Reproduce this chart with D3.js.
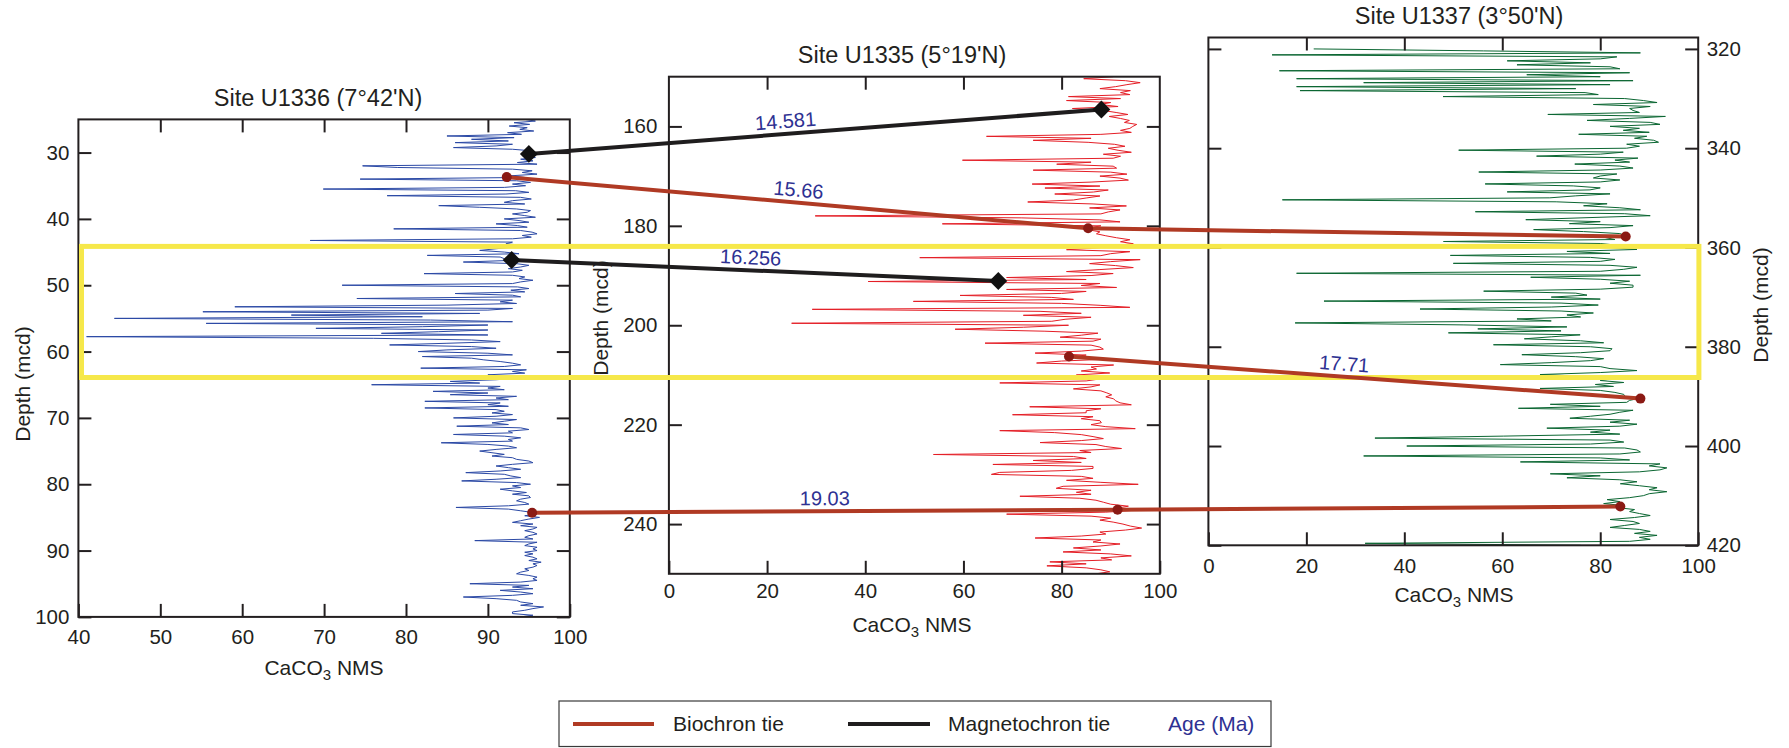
<!DOCTYPE html>
<html lang="en">
<head>
<meta charset="UTF-8">
<title>CaCO3 NMS - Sites U1336, U1335, U1337</title>
<script src="https://d3js.org/d3.v7.min.js"></script>
<style>
  body { margin: 0; background: #fff; }
  svg { font-family: 'Liberation Sans', Arial, sans-serif; }
  svg text { fill: #231f20; }
  .tick line { stroke: #231f20; stroke-width: 2; }
  .tick text { font-size: 20.5px; font-family: 'Liberation Sans', Arial, sans-serif; fill: #231f20; }
  .frame { fill: none; stroke: #231f20; stroke-width: 2; }
  .series { fill: none; stroke-width: 1; stroke-linejoin: miter; }
  .age { fill: #2e3192; font-size: 20px; }
</style>
</head>
<body>
<svg id="chart" width="1789" height="748"></svg>
<script>
// CaCO3 NMS per site on a regular depth grid (mcd)
const u1336Start = 25, u1336Step = 0.25;
const u1336Values = [
  94.5, 95.8, 93.2, 95.1, 92.6, 94.8, 93.9, 95.6,
  92.4, 94.1, 85.0, 93.2, 88.0, 92.5, 86.0, 93.0,
  91.0, 85.8, 93.0, 95.5, 95.0, 96.2, 94.3, 95.8,
  94.0, 95.5, 93.6, 96.0, 74.7, 79.0, 93.0, 95.4,
  94.2, 96.0, 92.8, 94.5, 74.4, 93.5, 95.2, 93.0,
  94.6, 92.0, 69.9, 93.4, 95.0, 92.2, 77.7, 94.0,
  95.3, 93.0, 92.0, 94.5, 84.0, 89.0, 93.5, 95.2,
  94.8, 93.0, 94.5, 95.8, 92.0, 93.8, 95.0, 91.0,
  93.6, 94.8, 78.5, 94.0, 95.4, 96.0, 94.2, 95.3,
  93.0, 68.3, 93.0, 92.2, 94.4, 93.0, 91.0, 89.0,
  92.0, 93.8, 82.6, 91.5, 92.0, 93.0, 87.0, 93.5,
  95.0, 94.0, 92.5, 94.2, 93.0, 82.2, 93.0, 94.5,
  93.8, 95.5, 94.0, 93.0, 72.2, 93.6, 95.0, 92.8,
  94.5, 86.0, 93.0, 94.0, 74.0, 93.0, 91.5, 93.5,
  85.0, 59.1, 93.0, 90.0, 55.2, 89.0, 66.0, 82.0,
  44.4, 83.0, 93.0, 55.6, 90.0, 82.0, 69.0, 90.0,
  84.0, 77.0, 90.0, 41.0, 76.0, 88.0, 91.5, 85.0,
  78.0, 88.0, 91.0, 85.0, 81.5, 90.0, 93.0, 82.0,
  88.0, 89.5, 91.5, 93.0, 94.0, 92.0, 81.8, 94.7,
  93.0, 94.5, 90.0, 92.0, 93.6, 91.0, 85.4, 89.0,
  75.8, 91.5, 90.0, 92.0, 83.3, 90.0, 85.4, 93.5,
  91.0, 92.5, 82.3, 91.5, 90.0, 92.5, 82.3, 91.0,
  92.0, 90.5, 93.0, 91.0, 85.8, 93.5, 92.0, 90.5,
  92.5, 86.2, 94.0, 95.0, 92.5, 93.0, 85.8, 92.0,
  94.0, 92.5, 93.0, 84.3, 90.0, 92.5, 93.5, 91.0,
  89.0, 90.5, 92.0, 90.5, 93.0, 93.5, 95.0, 95.5,
  93.0, 91.0, 92.5, 94.0, 91.5, 87.3, 92.0, 92.8,
  94.0, 91.0, 86.8, 93.5, 95.2, 93.0, 94.0, 91.5,
  93.0, 94.7, 93.0, 95.0, 95.2, 94.0, 93.5, 94.5,
  95.0, 92.5, 86.1, 92.5, 94.0, 95.4, 96.0, 94.5,
  96.3, 95.0, 94.0, 93.0, 95.5, 94.0, 96.0, 95.5,
  94.5, 95.5, 96.0, 95.0, 94.5, 95.5, 88.4, 96.0,
  95.0, 94.5, 96.0, 95.5, 96.0, 94.5, 95.5, 94.5,
  95.5, 96.0, 95.0, 96.5, 95.5, 96.0, 95.5, 94.5,
  95.0, 94.0, 93.5, 95.0, 96.0, 95.5, 96.0, 94.0,
  87.8, 95.0, 93.0, 95.5, 91.5, 94.0, 95.5, 93.0,
  87.0, 91.0, 93.5, 94.0, 95.5, 94.0, 96.8, 95.5,
  94.5, 93.0, 93.0, 95.5, 94.0
];

const u1335Start = 150, u1335Step = 0.4;
const u1335Values = [
  90.5, 84.5, 93.0, 96.0, 93.3, 91.0, 87.8, 94.0, 92.0, 93.9,
  81.4, 92.0, 81.0, 90.0, 87.8, 91.5, 82.2, 88.5, 91.1, 93.5,
  89.7, 92.0, 93.8, 92.8, 95.3, 94.5, 93.9, 92.0, 94.2, 88.0,
  64.7, 86.0, 74.2, 85.4, 90.8, 92.9, 89.5, 91.5, 94.2, 88.5,
  92.0, 90.5, 59.8, 86.0, 79.0, 90.5, 91.2, 74.2, 90.0, 93.3,
  87.8, 91.9, 93.6, 86.0, 74.0, 87.8, 76.6, 89.5, 86.5, 78.6,
  87.8, 85.0, 82.4, 73.1, 86.4, 93.2, 85.7, 91.9, 89.5, 88.0,
  29.8, 71.9, 87.8, 91.9, 55.7, 88.0, 85.7, 85.4, 87.8, 87.1,
  89.0, 91.2, 93.9, 92.0, 94.6, 90.0, 87.8, 81.0, 93.9, 90.0,
  88.0, 51.1, 96.0, 90.0, 85.7, 91.0, 94.6, 87.8, 81.0, 90.5,
  86.0, 68.8, 85.0, 40.6, 87.8, 84.0, 91.2, 68.8, 85.0, 80.0,
  59.3, 78.0, 82.4, 49.8, 80.0, 88.0, 93.9, 29.2, 75.6, 84.0,
  72.2, 86.0, 80.7, 78.0, 25.0, 81.4, 72.2, 58.3, 76.6, 87.4,
  84.0, 79.7, 88.0, 86.4, 64.4, 86.0, 87.8, 88.5, 84.0, 74.6,
  85.0, 81.7, 89.9, 80.0, 74.9, 90.6, 86.0, 87.1, 84.0, 89.8,
  83.0, 88.0, 87.8, 85.0, 67.4, 87.8, 86.0, 82.4, 88.0, 89.2,
  90.2, 89.0, 90.6, 91.0, 91.9, 94.2, 73.5, 88.0, 85.0, 85.0,
  70.0, 86.4, 84.0, 87.8, 88.1, 86.0, 89.0, 95.0, 67.4, 78.6,
  84.0, 86.4, 88.5, 84.0, 75.6, 87.0, 89.0, 92.2, 83.7, 86.0,
  53.9, 82.4, 85.0, 74.2, 84.0, 66.0, 86.4, 86.4, 82.0, 67.4,
  65.7, 84.0, 86.4, 81.0, 88.0, 95.6, 80.3, 78.9, 86.0, 83.0,
  86.0, 71.5, 83.7, 87.0, 88.5, 90.0, 93.6, 91.2, 95.3, 89.0,
  68.8, 86.0, 90.0, 87.8, 90.5, 92.5, 94.0, 96.3, 93.0, 87.8,
  89.0, 84.0, 74.6, 88.0, 86.4, 91.9, 88.0, 82.4, 88.0, 80.3,
  90.0, 94.2, 88.0, 90.2, 77.6, 85.0, 77.0, 85.0, 88.0, 89.8,
  87.0
];

const u1337Start = 320, u1337Step = 0.4;
const u1337Values = [
  21.5, 56.2, 88.2, 13.0, 83.4, 80.0, 61.0, 78.0, 63.0, 82.0,
  84.0, 14.5, 86.0, 65.0, 80.0, 18.0, 86.7, 31.7, 82.0, 18.0,
  75.0, 18.7, 76.9, 79.6, 47.9, 85.0, 88.8, 91.6, 78.6, 90.2,
  86.0, 86.7, 88.0, 69.3, 93.3, 86.0, 77.3, 90.2, 92.2, 82.0,
  88.0, 84.7, 90.0, 75.6, 89.5, 87.0, 90.9, 91.9, 85.4, 88.0,
  85.4, 51.1, 84.7, 80.0, 67.0, 87.7, 83.0, 86.0, 74.8, 84.0,
  86.7, 80.0, 55.2, 83.4, 80.0, 78.6, 84.0, 80.0, 56.5, 74.5,
  80.0, 77.9, 61.0, 82.0, 75.0, 69.7, 15.1, 71.0, 81.4, 76.6,
  84.0, 88.2, 54.5, 85.0, 90.2, 77.3, 64.8, 80.0, 73.7, 86.7,
  82.0, 66.4, 76.6, 84.0, 85.1, 81.0, 83.0, 48.0, 80.0, 84.0,
  82.0, 87.5, 73.2, 82.0, 49.4, 78.0, 83.0, 80.0, 50.0, 82.0,
  87.5, 84.8, 80.0, 18.0, 88.2, 65.8, 80.0, 86.0, 82.0, 86.7,
  86.7, 80.0, 56.2, 75.0, 77.3, 70.0, 80.0, 23.6, 72.0, 79.6,
  70.0, 43.2, 72.0, 78.6, 73.2, 76.0, 63.0, 70.0, 17.7, 52.0,
  73.2, 55.0, 72.0, 49.0, 75.9, 70.0, 64.5, 76.0, 80.7, 58.2,
  78.0, 82.4, 82.0, 76.0, 64.0, 75.0, 80.7, 78.0, 70.0, 59.6,
  80.0, 82.0, 87.5, 80.0, 67.7, 78.0, 83.0, 80.0, 84.8, 79.0,
  82.7, 67.7, 80.0, 83.0, 84.8, 85.0, 88.0, 86.0, 85.4, 69.8,
  80.0, 63.3, 86.7, 84.0, 82.0, 78.0, 73.8, 86.0, 82.0, 87.5,
  84.0, 69.1, 82.0, 78.0, 84.0, 60.3, 34.0, 82.0, 84.8, 78.0,
  40.5, 85.0, 87.5, 88.2, 84.0, 31.7, 80.0, 86.0, 63.7, 92.2,
  90.0, 93.6, 92.2, 88.0, 69.8, 80.0, 73.2, 84.0, 87.5, 84.1,
  88.0, 91.6, 90.0, 93.6, 90.0, 88.8, 86.0, 81.4, 84.0, 80.7,
  85.0, 83.4, 87.0, 86.0, 88.0, 90.2, 87.0, 82.0, 86.7, 88.0,
  85.0, 82.0, 88.0, 90.2, 87.0, 91.6, 88.0, 90.2, 86.0, 32.0,
  76.0
];

// axis ticks
const u1336XTicks = [40, 50, 60, 70, 80, 90, 100];
const u1336YTicks = [30, 40, 50, 60, 70, 80, 90, 100];
const u1335XTicks = [0, 20, 40, 60, 80, 100];
const u1335YTicks = [160, 180, 200, 220, 240];
const u1337XTicks = [0, 20, 40, 60, 80, 100];
const u1337YTicks = [320, 340, 360, 380, 400, 420];

// age tie points: [CaCO3, depth] at each site, null where no tie
const tieAges = ["14.581", "16.256", "15.66", "17.71", "19.03"];
const tieTypes = ["magneto", "magneto", "bio", "bio", "bio"];
const tieU1336 = [[95.0, 30.2], [92.9, 46.2], [92.3, 33.7], null, [95.4, 84.3]];
const tieU1335 = [[88.1, 156.6], [67.1, 191.1], [85.4, 180.5], [81.5, 206.3], [91.4, 237.1]];
const tieU1337 = [null, null, [85.2, 357.8], [88.2, 390.45], [84.1, 412.2]];

const legendLabels = ["Biochron tie", "Magnetochron tie", "Age (Ma)"];

const bioColor = "#b03a24";
const magColor = "#1f1d1e";
const ageColor = "#2e3192";

const svg = d3.select("#chart");

const panels = [
  { title: "Site U1336 (7°42'N)", values: u1336Values, start: u1336Start, step: u1336Step,
    xDomain: [40, 100], yDomain: [25, 100], xTicks: u1336XTicks, yTicks: u1336YTicks,
    left: 78.4, right: 569.8, top: 119.4, bottom: 616.9, color: "#2b49a5",
    depthSide: "left", yPad: 9, xPad: 13, titleX: 318, titleY: 106,
    yLabelX: 23, yLabelY: 384, xLabelX: 324, xLabelY: 675 },
  { title: "Site U1335 (5°19'N)", values: u1335Values, start: u1335Start, step: u1335Step,
    xDomain: [0, 100], yDomain: [150, 250], xTicks: u1335XTicks, yTicks: u1335YTicks,
    left: 668.9, right: 1159.8, top: 76.7, bottom: 573.8, color: "#e41e26",
    depthSide: "left", yPad: 11.5, xPad: 10, titleX: 902, titleY: 63,
    yLabelX: 601, yLabelY: 318, xLabelX: 912, xLabelY: 632 },
  { title: "Site U1337 (3°50'N)", values: u1337Values, start: u1337Start, step: u1337Step,
    xDomain: [0, 100], yDomain: [317.7, 420], xTicks: u1337XTicks, yTicks: u1337YTicks,
    left: 1208.4, right: 1698.2, top: 37.5, bottom: 545.3, color: "#0b6632",
    depthSide: "right", yPad: 8.5, xPad: 13, titleX: 1459, titleY: 24,
    yLabelX: 1761, yLabelY: 305, xLabelX: 1454, xLabelY: 602 }
];

const tickLen = 13;
const layerData = svg.append("g");
const layerAxes = svg.append("g");
const layerAge = svg.append("g");
const layerBox = svg.append("g");
const layerTies = svg.append("g");

panels.forEach((p, k) => {
  p.x = d3.scaleLinear().domain(p.xDomain).range([p.left, p.right]);
  p.y = d3.scaleLinear().domain(p.yDomain).range([p.top, p.bottom]);

  const clipId = "clip" + k;
  svg.append("clipPath").attr("id", clipId)
    .append("rect")
    .attr("x", p.left).attr("y", p.top)
    .attr("width", p.right - p.left).attr("height", p.bottom - p.top);

  const pts = p.values.map((v, i) => ({ depth: p.start + i * p.step, v: v }));
  const line = d3.line().x(d => p.x(d.v)).y(d => p.y(d.depth));

  layerData.append("path")
    .datum(pts)
    .attr("class", "series")
    .attr("clip-path", `url(#${clipId})`)
    .attr("stroke", p.color)
    .attr("d", line);

  const g = layerAxes.append("g");

  // axes, ticks pointing inward
  g.append("g").attr("transform", `translate(0,${p.bottom})`)
    .call(d3.axisBottom(p.x).tickValues(p.xTicks).tickSize(-tickLen).tickSizeOuter(0).tickPadding(p.xPad))
    .call(a => a.select(".domain").remove());
  g.append("g").attr("transform", `translate(0,${p.top})`)
    .call(d3.axisTop(p.x).tickValues(p.xTicks.filter(t => t > p.xDomain[0] && t < p.xDomain[1]))
      .tickSize(-tickLen).tickSizeOuter(0).tickFormat(""))
    .call(a => a.select(".domain").remove());

  const leftAxis = d3.axisLeft(p.y).tickValues(p.yTicks).tickSize(-tickLen).tickSizeOuter(0).tickPadding(p.yPad);
  const rightAxis = d3.axisRight(p.y).tickValues(p.yTicks).tickSize(-tickLen).tickSizeOuter(0).tickPadding(p.yPad);
  if (p.depthSide === "left") rightAxis.tickFormat("");
  else leftAxis.tickFormat("");
  g.append("g").attr("transform", `translate(${p.left},0)`).call(leftAxis)
    .call(a => a.select(".domain").remove());
  g.append("g").attr("transform", `translate(${p.right},0)`).call(rightAxis)
    .call(a => a.select(".domain").remove());

  g.append("rect").attr("class", "frame")
    .attr("x", p.left).attr("y", p.top)
    .attr("width", p.right - p.left).attr("height", p.bottom - p.top);

  g.append("text")
    .attr("x", p.titleX).attr("y", p.titleY)
    .attr("text-anchor", "middle").attr("font-size", 23.5)
    .text(p.title);

  g.append("text")
    .attr("transform", `translate(${p.yLabelX},${p.yLabelY}) rotate(-90)`)
    .attr("text-anchor", "middle").attr("dy", "0.35em").attr("font-size", 21)
    .text("Depth (mcd)");

  const xl = g.append("text")
    .attr("x", p.xLabelX).attr("y", p.xLabelY)
    .attr("text-anchor", "middle").attr("font-size", 21);
  xl.append("tspan").text("CaCO");
  xl.append("tspan").attr("font-size", 15).attr("dy", 5).text("3");
  xl.append("tspan").attr("dy", -5).text(" NMS");
});

// yellow highlight box
layerBox.append("rect")
  .attr("x", 81.5).attr("y", 246.4)
  .attr("width", 1617.4).attr("height", 131.1)
  .attr("fill", "none").attr("stroke", "#f6e84a").attr("stroke-width", 5);

// tie lines between sites
const tieSites = [tieU1336, tieU1335, tieU1337];
const labelT = [0.45, 0.49, 0.5, 0.48, 0.5];

tieAges.forEach((age, i) => {
  const pts = [];
  tieSites.forEach((site, k) => {
    const t = site[i];
    if (t) pts.push([panels[k].x(t[0]), panels[k].y(t[1])]);
  });
  const col = tieTypes[i] === "bio" ? bioColor : magColor;

  layerTies.append("path")
    .attr("d", d3.line()(pts))
    .attr("fill", "none").attr("stroke", col).attr("stroke-width", 4);

  pts.forEach(pt => {
    if (tieTypes[i] === "bio") {
      layerTies.append("circle").attr("cx", pt[0]).attr("cy", pt[1]).attr("r", 5)
        .attr("fill", "#8b1a14");
    } else {
      layerTies.append("path")
        .attr("d", d3.symbol(d3.symbolSquare, 160)())
        .attr("transform", `translate(${pt[0]},${pt[1]}) rotate(45)`)
        .attr("fill", "#111");
    }
  });

  const a = pts[0], b = pts[1];
  const t = labelT[i];
  const lx = a[0] + (b[0] - a[0]) * t;
  const ly = a[1] + (b[1] - a[1]) * t;
  const ang = Math.atan2(b[1] - a[1], b[0] - a[0]) * 180 / Math.PI;
  layerAge.append("text")
    .attr("class", "age")
    .attr("transform", `translate(${lx},${ly}) rotate(${ang})`)
    .attr("y", -6)
    .attr("text-anchor", "middle")
    .text(age);
});

// legend
const lg = svg.append("g");
lg.append("rect").attr("x", 559).attr("y", 701).attr("width", 712).attr("height", 45.5)
  .attr("fill", "#fff").attr("stroke", "#3a3a3a").attr("stroke-width", 1.2);
lg.append("line").attr("x1", 573).attr("x2", 654).attr("y1", 724).attr("y2", 724)
  .attr("stroke", bioColor).attr("stroke-width", 4);
lg.append("text").attr("x", 673).attr("y", 731).attr("font-size", 21).text(legendLabels[0]);
lg.append("line").attr("x1", 848).attr("x2", 930).attr("y1", 724).attr("y2", 724)
  .attr("stroke", magColor).attr("stroke-width", 4);
lg.append("text").attr("x", 948).attr("y", 731).attr("font-size", 21).text(legendLabels[1]);
lg.append("text").attr("x", 1168).attr("y", 731).attr("font-size", 21)
  .style("fill", ageColor).text(legendLabels[2]);
</script>
</body>
</html>
